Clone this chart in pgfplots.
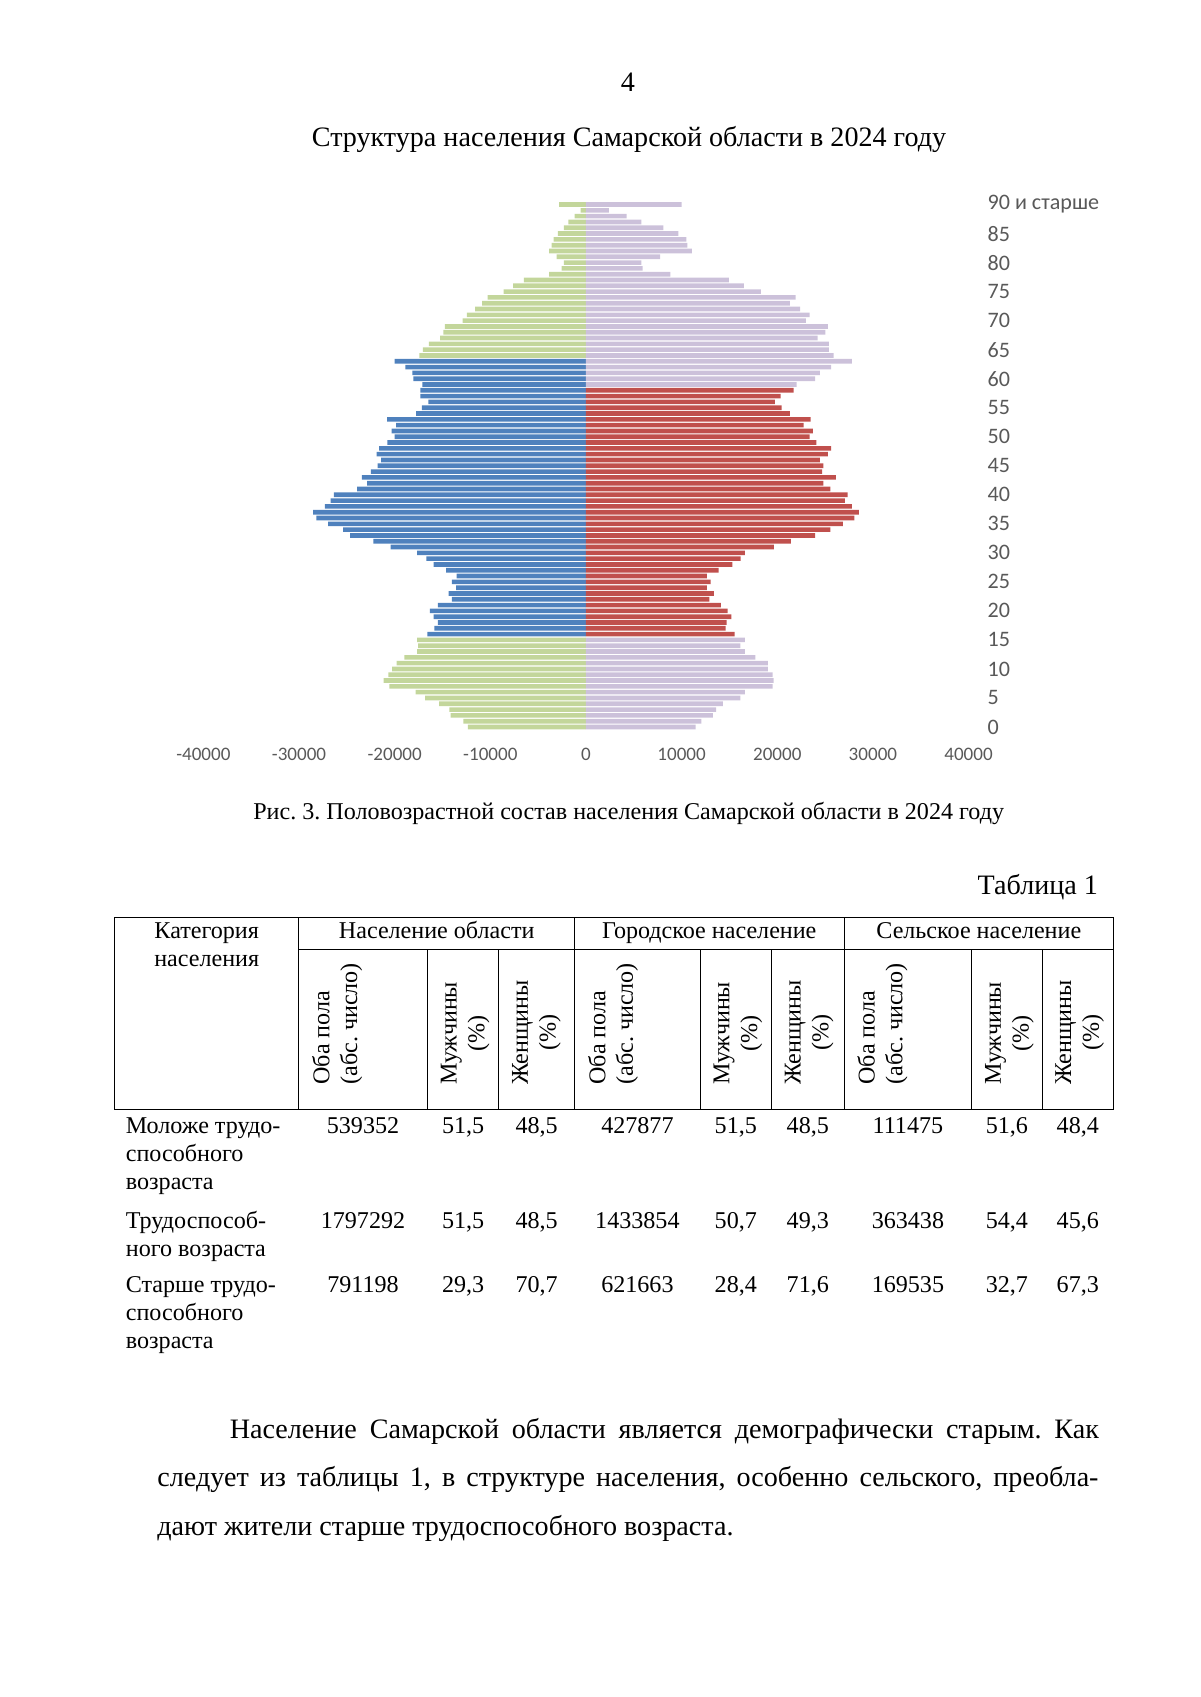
\documentclass[border=0pt]{standalone}
\usepackage{fontspec}
\setmainfont{Liberation Serif}
\newfontfamily\calibrifont{Carlito}
\usepackage{pgfplots}
\usepackage{pgfplotstable}
\pgfplotsset{compat=1.18}
\definecolor{mblue}{HTML}{4F81BD}
\definecolor{fred}{HTML}{C0504D}
\definecolor{mgreen}{HTML}{C3D69B}
\definecolor{flav}{HTML}{CCC1DA}
\definecolor{labgray}{HTML}{595959}
\newcommand\fsa{\fontsize{14}{16.1}\selectfont}
\newcommand\fsb{\fontsize{12}{13.8}\selectfont}
\frenchspacing

% males, working age (blue)
\pgfplotstableread{
age v
16 16570
17 15840
18 15490
19 15940
20 16330
21 15490
22 14020
23 14370
24 13570
25 14020
26 13530
27 14620
28 15940
29 16680
30 17660
31 20420
32 22240
33 24650
34 25380
35 26960
36 28180
37 28530
38 27310
39 26710
40 26360
41 23920
42 22870
43 23430
44 22480
45 21780
46 21430
47 21890
48 21640
49 20770
50 20000
51 20310
52 19860
53 20800
54 17760
55 17170
56 16470
57 17310
58 17310
59 17100
60 18040
61 18150
62 18880
63 20000
}\maleWork
% males, other ages (green)
\pgfplotstableread{
age v
0 12340
1 12830
2 14160
3 14270
4 15350
5 16820
6 17800
7 20560
8 21150
9 20660
10 20280
11 19790
12 18990
13 17660
14 17550
15 17660
64 17410
65 17060
66 16430
67 15240
68 14900
69 14750
70 12900
71 12450
72 11600
73 10870
74 10280
75 8600
76 7620
77 6500
78 3850
79 2550
80 2300
81 3080
82 3850
83 3600
84 3390
85 2940
86 2300
87 1850
88 1190
89 560
90 2800
}\maleOld
% females, working age (red)
\pgfplotstableread{
age v
16 15540
17 14600
18 14700
19 15190
20 14810
21 14110
22 12890
23 13380
24 12650
25 13030
26 12650
27 13870
28 15300
29 16170
30 16620
31 19650
32 21430
33 23970
34 25540
35 26860
36 28050
37 28540
38 27800
39 27070
40 27350
41 25540
42 24810
43 26130
44 24700
45 24810
46 24460
47 25300
48 25640
49 24080
50 23380
51 23730
52 22750
53 23480
54 21320
55 20450
56 19760
57 20350
58 21710
}\femWork
% females, other ages (lavender)
\pgfplotstableread{
age v
0 11460
1 12060
2 13280
3 13620
4 14320
5 16130
6 16620
7 19510
8 19620
9 19510
10 19020
11 19020
12 17700
13 16620
14 16130
15 16620
59 22020
60 23970
61 24460
62 25640
63 27800
64 25890
65 25400
66 25400
67 24220
68 25020
69 25300
70 23000
71 23380
72 22400
73 21320
74 21920
75 18290
76 16520
77 14950
78 8820
79 5920
80 5780
81 7740
82 11080
83 10590
84 10490
85 9650
86 8080
87 5780
88 4250
89 2400
90 10000
}\femOld

\newcommand\tabrow[9]{%
  \node[num] at (363,-\ry) {#1};
  \node[num] at (463.1,-\ry) {#2};
  \node[num] at (536.7,-\ry) {#3};
  \node[num] at (637.4,-\ry) {#4};
  \node[num] at (735.8,-\ry) {#5};
  \node[num] at (807.8,-\ry) {#6};
  \node[num] at (907.9,-\ry) {#7};
  \node[num] at (1006.9,-\ry) {#8};
  \node[num] at (1077.8,-\ry) {#9};
}

\begin{document}
\begin{tikzpicture}[x=0.175mm, y=0.175mm,
  num/.style={anchor=base, inner sep=0pt, font=\fsb},
  lab/.style={anchor=base west, inner sep=0pt, font=\fsb},
  rot/.style={rotate=90, anchor=north west, inner sep=0pt, font=\fsb}]
\path[use as bounding box] (0,0) rectangle (1200,-1697);
\coordinate (axpos) at (203.4,-729.9);

% page number and title
\node[anchor=base, inner sep=0pt, font=\fsa] at (628,-92) {4};
\node[anchor=base, inner sep=0pt, font=\fsa] at (629,-147) {Структура населения Самарской области в 2024 году};

% chart
\begin{axis}[
  at={(axpos)}, anchor=south west,
  scale only axis, width=133.9mm, height=92.45mm,
  xbar, bar shift=0pt, bar width=0.8,
  xmin=-40000, xmax=40000, ymin=-0.5, ymax=90.5,
  enlargelimits=false, clip=false,
  scaled x ticks=false,
  axis line style={draw=none}, tick style={draw=none},
  xtick={-40000,-30000,-20000,-10000,0,10000,20000,30000,40000},
  xticklabels={-40000,-30000,-20000,-10000,0,10000,20000,30000,40000},
  xticklabel style={font=\calibrifont\fontsize{9.5}{11}\selectfont, text=labgray, yshift=-1.9mm},
  ytick={0,5,...,90},
  yticklabels={0,5,10,15,20,25,30,35,40,45,50,55,60,65,70,75,80,85,{90 и старше}},
  yticklabel pos=right,
  yticklabel style={font=\calibrifont\fontsize{11}{13}\selectfont, text=labgray, anchor=west, xshift=0.6mm},
]
\addplot[fill=mgreen, draw=none, bar shift=0pt, bar width=0.8] table[x expr=-\thisrow{v}, y=age] {\maleOld};
\addplot[fill=mblue, draw=none, bar shift=0pt, bar width=0.8] table[x expr=-\thisrow{v}, y=age] {\maleWork};
\addplot[fill=flav, draw=none, bar shift=0pt, bar width=0.8] table[x=v, y=age] {\femOld};
\addplot[fill=fred, draw=none, bar shift=0pt, bar width=0.8] table[x=v, y=age] {\femWork};
\end{axis}

% caption
\node[anchor=base, inner sep=0pt, font=\fsb] at (628.7,-819) {Рис. 3. Половозрастной состав населения Самарской области в 2024 году};

\node[anchor=base east, inner sep=0pt, font=\fsa] at (1098.3,-894) {Таблица 1};

% table grid
\draw[line width=0.5pt] (114.7,-917.6) rectangle (1113.5,-1109);
\draw[line width=0.5pt] (298.7,-949) -- (1113.5,-949);
\foreach \xx in {298.7,574.6,844} \draw[line width=0.5pt] (\xx,-917.6) -- (\xx,-1109);
\foreach \xx in {427.4,498.8,700.1,771.5,971.7,1042} \draw[line width=0.5pt] (\xx,-949) -- (\xx,-1109);

% header
\node[num] at (206.7,-938) {Категория};
\node[num] at (206.7,-966.3) {населения};
\node[num] at (436.7,-938) {Население области};
\node[num] at (709.3,-938) {Городское население};
\node[num] at (978.8,-938) {Сельское население};

\foreach \cl in {298.7,574.6,844} \node[rot, align=left] at (\cl+13,-1085) {Оба пола\\(абс. число)};
\foreach \cl in {427.4,700.1,971.7} \node[rot, align=center] at (\cl+13,-1085) {Мужчины\\(\%)};
\foreach \cl in {498.8,771.5,1042} \node[rot, align=center] at (\cl+13,-1085) {Женщины\\(\%)};

% rows
\node[lab] at (125.5,-1133) {Моложе трудо-};
\node[lab] at (125.5,-1161.2) {способного};
\node[lab] at (125.5,-1189.3) {возраста};
\def\ry{1133}
\tabrow{539352}{51,5}{48,5}{427877}{51,5}{48,5}{111475}{51,6}{48,4}

\node[lab] at (125.5,-1228.2) {Трудоспособ-};
\node[lab] at (125.5,-1256.3) {ного возраста};
\def\ry{1228.2}
\tabrow{1797292}{51,5}{48,5}{1433854}{50,7}{49,3}{363438}{54,4}{45,6}

\node[lab] at (125.5,-1292) {Старше трудо-};
\node[lab] at (125.5,-1320.1) {способного};
\node[lab] at (125.5,-1348.2) {возраста};
\def\ry{1292}
\tabrow{791198}{29,3}{70,7}{621663}{28,4}{71,6}{169535}{32,7}{67,3}

% paragraph
\node[anchor=base west, inner sep=0pt, font=\fsa] at (229.4,-1438) {\makebox[152.1mm][s]{Население Самарской области является демографически старым. Как}};
\node[anchor=base west, inner sep=0pt, font=\fsa] at (157,-1486.8) {\makebox[164.7mm][s]{следует из таблицы 1, в структуре населения, особенно сельского, преобла-}};
\node[anchor=base west, inner sep=0pt, font=\fsa] at (157,-1535.5) {дают жители старше трудоспособного возраста.};
\end{tikzpicture}
\end{document}
